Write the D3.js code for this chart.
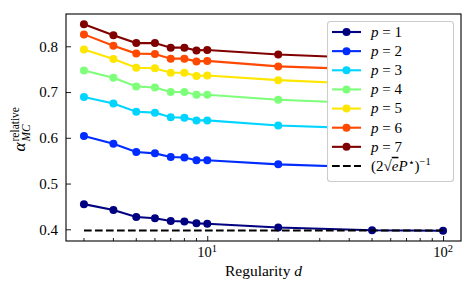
<!DOCTYPE html>
<html>
<head>
<meta charset="utf-8">
<script src="https://cdn.jsdelivr.net/npm/d3@7"></script>
<style>
  html, body { margin: 0; padding: 0; background: #fff; }
  svg { display: block; }
  text { font-family: "Liberation Serif", "DejaVu Serif", serif; fill: #000; }
</style>
</head>
<body>
<div id="chart"></div>
<script>
// Data
const degrees = [3, 4, 5, 6, 7, 8, 9, 10, 20, 50, 100];
const p1 = [0.455, 0.442, 0.427, 0.424, 0.418, 0.417, 0.413, 0.412, 0.404, 0.398, 0.397];
const p2 = [0.604, 0.587, 0.569, 0.566, 0.558, 0.557, 0.551, 0.551, 0.542, 0.535, 0.533];
const p3 = [0.689, 0.675, 0.657, 0.655, 0.645, 0.644, 0.638, 0.638, 0.627, 0.620, 0.618];
const p4 = [0.747, 0.731, 0.712, 0.710, 0.700, 0.700, 0.694, 0.694, 0.683, 0.675, 0.673];
const p5 = [0.793, 0.772, 0.753, 0.752, 0.742, 0.742, 0.735, 0.736, 0.726, 0.717, 0.715];
const p6 = [0.826, 0.801, 0.784, 0.783, 0.773, 0.773, 0.767, 0.768, 0.756, 0.749, 0.747];
const p7 = [0.848, 0.824, 0.807, 0.807, 0.797, 0.797, 0.791, 0.792, 0.782, 0.774, 0.771];
const bound = 0.3974;
const seriesNames = ['1', '2', '3', '4', '5', '6', '7'];
const seriesValues = [p1, p2, p3, p4, p5, p6, p7];
const colors = ['#000080', '#002cff', '#00d4ff', '#7dff7a', '#ffe600', '#ff4800', '#800000'];
const yTicks = [0.4, 0.5, 0.6, 0.7, 0.8];

const W = 476, H = 295;
const box = { left: 66, right: 461, top: 14, bottom: 241 };

const svg = d3.select('#chart').append('svg')
  .attr('width', W).attr('height', H);

// matplotlib style 5% margins (log space for x)
const lx = d3.extent(degrees).map(Math.log10);
const xm = (lx[1] - lx[0]) * 0.05;
const x = d3.scaleLog()
  .domain([Math.pow(10, lx[0] - xm), Math.pow(10, lx[1] + xm)])
  .range([box.left, box.right]);
const allY = seriesValues.flat().concat([bound]);
const ye = d3.extent(allY);
const ym = (ye[1] - ye[0]) * 0.05;
const y = d3.scaleLinear()
  .domain([ye[0] - ym, ye[1] + ym])
  .range([box.bottom, box.top]);

const plot = svg.append('g');
plot.append('clipPath').attr('id', 'clip')
  .append('rect')
  .attr('x', box.left).attr('y', box.top)
  .attr('width', box.right - box.left).attr('height', box.bottom - box.top);

const line = d3.line()
  .x(d => x(d[0]))
  .y(d => y(d[1]));

seriesValues.forEach((vals, i) => {
  const pts = degrees.map((d, j) => [d, vals[j]]);
  const g = plot.append('g').attr('clip-path', 'url(#clip)');
  g.append('path')
    .attr('d', line(pts))
    .attr('fill', 'none')
    .attr('stroke', colors[i])
    .attr('stroke-width', 2.1);
  g.selectAll('circle').data(pts).enter().append('circle')
    .attr('cx', d => x(d[0]))
    .attr('cy', d => y(d[1]))
    .attr('r', 4)
    .attr('fill', colors[i]);
});

plot.append('path')
  .attr('d', line([[degrees[0], bound], [degrees[degrees.length - 1], bound]]))
  .attr('fill', 'none')
  .attr('stroke', '#000')
  .attr('stroke-width', 2.1)
  .attr('stroke-dasharray', '7.7,3.3');

// axes: ticks pointing inward
const xAxis = d3.axisBottom(x)
  .tickValues([10, 100])
  .tickSizeInner(-5).tickSizeOuter(0)
  .tickFormat('');
const gx = svg.append('g')
  .attr('transform', `translate(0,${box.bottom})`)
  .call(xAxis);
const minors = [];
[1, 10].forEach(dec => {
  for (let k = 2; k <= 9; k++) {
    const v = k * dec;
    if (v >= x.domain()[0] && v <= x.domain()[1]) minors.push(v);
  }
});
gx.selectAll('.minor').data(minors).enter().append('line')
  .attr('class', 'minor')
  .attr('x1', d => x(d)).attr('x2', d => x(d))
  .attr('y1', 0).attr('y2', -3);

const xLabels = svg.append('g');
[10, 100].forEach(v => {
  const t = xLabels.append('text')
    .attr('x', x(v)).attr('y', 257)
    .attr('text-anchor', 'middle')
    .attr('font-size', 14.5);
  t.append('tspan').text('10');
  t.append('tspan').attr('dy', -5).attr('font-size', 10.5).text(Math.log10(v));
});

const yAxis = d3.axisLeft(y)
  .tickValues(yTicks)
  .tickSizeInner(-5).tickSizeOuter(0)
  .tickPadding(8)
  .tickFormat(d3.format('.1f'));
const gy = svg.append('g')
  .attr('transform', `translate(${box.left},0)`)
  .call(yAxis);
gy.selectAll('text')
  .attr('font-size', 15)
  .attr('font-family', '"Liberation Serif", serif');

svg.selectAll('.domain').remove();
svg.selectAll('.tick line, .minor').attr('stroke', '#000').attr('stroke-width', 0.9);

svg.append('rect')
  .attr('x', box.left).attr('y', box.top)
  .attr('width', box.right - box.left).attr('height', box.bottom - box.top)
  .attr('fill', 'none').attr('stroke', '#000').attr('stroke-width', 1.1);

// axis labels
const xl = svg.append('text')
  .attr('x', (box.left + box.right) / 2).attr('y', 276)
  .attr('text-anchor', 'middle')
  .attr('font-size', 15.5);
xl.append('tspan').text('Regularity ');
xl.append('tspan').attr('font-style', 'italic').text('d');

const yl = svg.append('g')
  .attr('transform', `translate(25,${(box.top + box.bottom) / 2}) rotate(-90)`);
yl.append('text').attr('x', -24).attr('y', 0)
  .attr('font-size', 17).attr('font-style', 'italic').text('α');
yl.append('text').attr('x', -14).attr('y', -6)
  .attr('font-size', 11.5).text('relative');
yl.append('text').attr('x', -14).attr('y', 4.5)
  .attr('font-size', 11.5).attr('font-style', 'italic').text('MC');

// legend
const leg = svg.append('g');
leg.append('rect')
  .attr('x', 327.5).attr('y', 21.5)
  .attr('width', 126).attr('height', 160)
  .attr('rx', 3)
  .attr('fill', '#fff')
  .attr('stroke', '#cccccc').attr('stroke-width', 1.1);
const rowY = i => 32 + i * 19.14;
seriesNames.forEach((name, i) => {
  const g = leg.append('g').attr('transform', `translate(0,${rowY(i)})`);
  g.append('line').attr('x1', 332).attr('x2', 361)
    .attr('stroke', colors[i]).attr('stroke-width', 2.1);
  g.append('circle').attr('cx', 346.5).attr('r', 4).attr('fill', colors[i]);
  const t = g.append('text').attr('x', 371).attr('y', 4.8).attr('font-size', 15);
  t.append('tspan').attr('font-style', 'italic').text('p');
  t.append('tspan').text(' = ' + name);
});
const gb = leg.append('g').attr('transform', `translate(0,${rowY(7)})`);
gb.append('line').attr('x1', 332).attr('x2', 361)
  .attr('stroke', '#000').attr('stroke-width', 2.1)
  .attr('stroke-dasharray', '7.7,3.3');
const bt = gb.append('text').attr('x', 371).attr('y', 4.8).attr('font-size', 15);
bt.append('tspan').text('(2√');
bt.append('tspan').attr('font-style', 'italic').attr('text-decoration', 'overline').text('e');
bt.append('tspan').attr('font-style', 'italic').text('P');
bt.append('tspan').attr('dy', -5).attr('font-size', 10.5).text('⋆');
bt.append('tspan').attr('dy', 5).text(')');
bt.append('tspan').attr('dy', -6).attr('font-size', 10.5).text('−1');
</script>
</body>
</html>
